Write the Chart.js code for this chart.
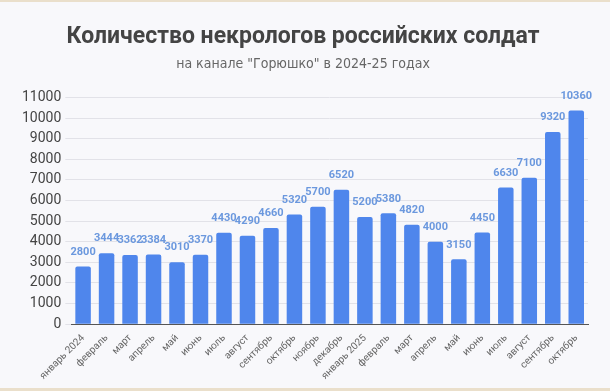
<!DOCTYPE html>
<html>
<head>
<meta charset="utf-8">
<script src="https://cdn.jsdelivr.net/npm/chart.js@4"></script>
<style>
  html, body { margin: 0; padding: 0; background: #f8f8fb; }
  #wrap { width: 610px; height: 391px; position: relative; box-sizing: border-box;
          border-top: 2px solid #eadfcb; border-bottom: 3px solid #eadfcb; }
</style>
</head>
<body>
<div id="wrap"><canvas id="chart" width="610" height="386"></canvas></div>
<script>
// Количество некрологов — bar chart with value labels

const months = [
  'январь 2024', 'февраль', 'март', 'апрель', 'май', 'июнь', 'июль', 'август',
  'сентябрь', 'октябрь', 'ноябрь', 'декабрь', 'январь 2025', 'февраль', 'март',
  'апрель', 'май', 'июнь', 'июль', 'август', 'сентябрь', 'октябрь'
];
const obituaries = [
  2800, 3444, 3362, 3384, 3010, 3370, 4430, 4290, 4660, 5320, 5700, 6520,
  5200, 5380, 4820, 4000, 3150, 4450, 6630, 7100, 9320, 10360
];
const yMax = 11000;
const yStep = 1000;

// small inline plugin instead of chartjs-plugin-datalabels
const valueLabels = {
  id: 'valueLabels',
  afterDatasetsDraw(chart) {
    const ctx = chart.ctx;
    const meta = chart.getDatasetMeta(0);
    ctx.save();
    ctx.font = 'bold 11px Roboto, sans-serif';
    ctx.fillStyle = '#6b98de';
    ctx.textAlign = 'center';
    ctx.textBaseline = 'bottom';
    meta.data.forEach((bar, i) => {
      ctx.fillText(String(obituaries[i]), bar.x, bar.y - 9);
    });
    ctx.restore();
  }
};

new Chart(document.getElementById('chart'), {
  type: 'bar',
  data: {
    labels: months,
    datasets: [{
      data: obituaries,
      backgroundColor: '#4f86ec',
      borderRadius: 2,
      categoryPercentage: 0.66,
      barPercentage: 1,
    }],
  },
  options: {
    responsive: false,
    animation: false,
    layout: { padding: { left: 18, right: 22, bottom: 6 } },
    plugins: {
      legend: { display: false },
      tooltip: { enabled: false },
      title: {
        display: true,
        text: 'Количество некрологов российских солдат',
        color: '#444',
        font: { family: 'Roboto, sans-serif', size: 23, weight: 'bold' },
        padding: { top: 21, bottom: 5 },
      },
      subtitle: {
        display: true,
        text: 'на канале "Горюшко" в 2024-25 годах',
        color: '#666',
        font: { family: '"DejaVu Sans Condensed", "Liberation Sans Narrow", Roboto, sans-serif', size: 14 },
        padding: { bottom: 25 },
      },
    },
    scales: {
      y: {
        min: 0,
        max: yMax,
        ticks: {
          stepSize: yStep, color: '#444', padding: 4,
          font: { family: 'Roboto, sans-serif', size: 14 },
          callback: v => String(v),
        },
        grid: { color: '#e2e2e8', tickLength: 6 },
        border: { display: false },
      },
      x: {
        ticks: { color: '#666', font: { family: 'Roboto, sans-serif', size: 10 }, minRotation: 45, maxRotation: 45, autoSkip: false, padding: 0 },
        grid: { display: false },
        border: { color: '#555' },
      },
    },
  },
  plugins: [valueLabels],
});
</script>
</body>
</html>
